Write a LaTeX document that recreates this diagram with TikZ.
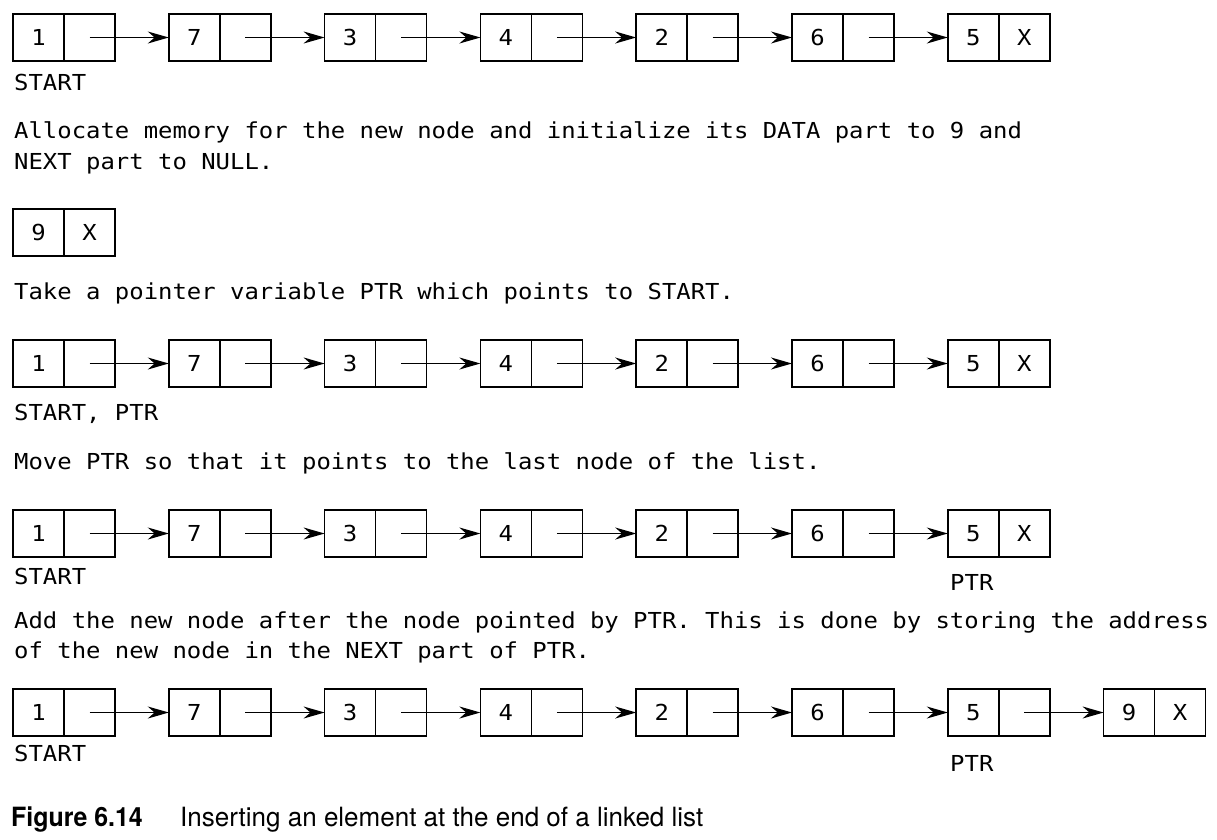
\documentclass[tikz,border=0pt]{standalone}
\usepackage{fontspec}
\setmonofont[FakeStretch=1.087]{DejaVu Sans Mono}
\newfontfamily\capfont[FakeStretch=0.981]{TeX Gyre Heros}
\newfontfamily\capbold[FakeStretch=0.94]{TeX Gyre Heros Bold}
\usetikzlibrary{arrows.meta}
\tikzset{
  cell/.style={draw, line width=1.5pt, outer sep=0pt, minimum width=51pt, minimum height=47pt, inner sep=0pt, font=\ttfamily\fontsize{22}{26}\selectfont},
  ptr/.style={line width=1.5pt, -{Stealth[length=21pt,width=12pt]}},
  txt/.style={anchor=base west, inner sep=0pt, font=\ttfamily\fontsize{22}{26}\selectfont},
  captxt/.style={anchor=base west, inner sep=0pt, font=\capfont\fontsize{26.5}{30}\selectfont},
  capbf/.style={anchor=base west, inner sep=0pt, font=\capbold\fontsize{26.5}{30}\selectfont},
}
\newcommand\drawlist[4]{% #1 prefix, #2 top y, #3 values, #4 index with X
  \foreach \v [count=\i from 0] in {#3} {
    \node[cell, anchor=north west] (#1\i-d) at ({13+155.8*\i},#2) {\v};
    \node[cell, anchor=west] (#1\i-p) at (#1\i-d.east) {\ifnum\i=#4 X\fi};
    \ifnum\i>0
      \pgfmathtruncatemacro\prev{\i-1}
      \draw[ptr] (#1\prev-p.center) -- (#1\i-d.west);
    \fi
  }
}
\begin{document}
\begin{tikzpicture}[x=1pt,y=-1pt]
\useasboundingbox (0,0) rectangle (1217,839);
\fill[white] (0,0) rectangle (1217,839);

% Row 1
\drawlist{a}{14}{1,7,3,4,2,6,5}{6}
\node[txt] (t1) at (14,90) {START};
\node[txt] (t2) at (14,138) {Allocate memory for the new node and initialize its DATA part to 9 and};
\node[txt] (t3) at (14,169) {NEXT part to NULL.};

% New node
\node[cell, anchor=north west] (n-d) at (13,209) {9};
\node[cell, anchor=west] (n-p) at (n-d.east) {X};

\node[txt] (t4) at (14,299) {Take a pointer variable PTR which points to START.};

% Row 3
\drawlist{b}{340}{1,7,3,4,2,6,5}{6}
\node[txt] (t5) at (14,420) {START, PTR};
\node[txt] (t6) at (14,469) {Move PTR so that it points to the last node of the list.};

% Row 4
\drawlist{c}{510}{1,7,3,4,2,6,5}{6}
\node[txt] (t7) at (14,584) {START};
\node[txt] (t8) at (950,590) {PTR};
\node[txt] (t9) at (14,628) {Add the new node after the node pointed by PTR. This is done by storing the address};
\node[txt] (t10) at (14,658) {of the new node in the NEXT part of PTR.};

% Row 5
\drawlist{e}{689}{1,7,3,4,2,6,5,9}{7}
\node[txt] (t11) at (14,761) {START};
\node[txt] (t12) at (950,771) {PTR};

% Caption
\node[capbf] (c1) at (11,826) {Figure 6.14};
\node[captxt] (c2) at (180,826) {Inserting an element at the end of a linked list};
\end{tikzpicture}
\end{document}
